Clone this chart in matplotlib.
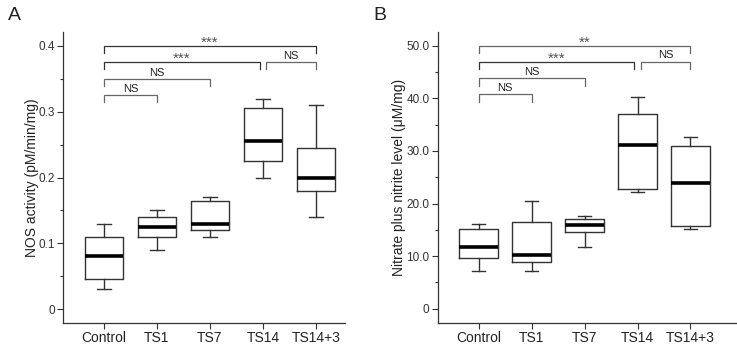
import matplotlib.pyplot as plt
from matplotlib.ticker import MultipleLocator, FixedFormatter, FixedLocator

# groups
categories = ["Control", "TS1", "TS7", "TS14", "TS14+3"]

# panel A: NOS activity (whisker low, Q1, median, Q3, whisker high)
nos_low = [0.03, 0.09, 0.11, 0.20, 0.14]
nos_q1 = [0.045, 0.11, 0.12, 0.225, 0.18]
nos_med = [0.08, 0.125, 0.13, 0.255, 0.20]
nos_q3 = [0.11, 0.14, 0.165, 0.305, 0.245]
nos_high = [0.13, 0.15, 0.17, 0.32, 0.31]

# panel B: nitrate plus nitrite level
nit_low = [7.2, 7.2, 11.8, 22.2, 15.2]
nit_q1 = [9.6, 8.9, 14.6, 22.8, 15.7]
nit_med = [11.8, 10.3, 15.9, 31.2, 23.9]
nit_q3 = [15.1, 16.4, 17.0, 37.1, 30.9]
nit_high = [16.2, 20.4, 17.7, 40.2, 32.6]

# significance brackets (group i, group j, label)
pairs = [(0, 4), (0, 3), (3, 4), (0, 2), (0, 1)]
labels_a = ["***", "***", "NS", "NS", "NS"]
labels_b = ["**", "***", "NS", "NS", "NS"]

plt.rcParams['font.family'] = ['Arial', 'Liberation Sans', 'DejaVu Sans']

fig = plt.figure(figsize=(7.37, 3.45), dpi=100)
ax_a = fig.add_axes([0.0855, 0.064, 0.383, 0.843])
ax_b = fig.add_axes([0.594, 0.064, 0.404, 0.843])


def draw_panel(ax, low, q1, med, q3, high, labels, ylim, step, fmt, bracket_y, leg):
    stats = []
    for i in range(len(categories)):
        stats.append(dict(whislo=low[i], q1=q1[i], med=med[i], q3=q3[i],
                          whishi=high[i], label=categories[i]))
    pos = list(range(1, len(categories) + 1))
    ax.bxp(stats, positions=pos, widths=0.72, showfliers=False,
           boxprops=dict(color="#333333", linewidth=1.0),
           whiskerprops=dict(color="#333333", linewidth=1.0),
           capprops=dict(color="#333333", linewidth=1.0),
           medianprops=dict(color="black", linewidth=2.6, solid_capstyle="butt"),
           capwidths=0.25)
    ax.set_ylim(*ylim)
    ax.spines["top"].set_visible(False)
    ax.spines["right"].set_visible(False)
    for s in ("left", "bottom"):
        ax.spines[s].set_color("#333333")
        ax.spines[s].set_linewidth(0.9)
    ticks = [step * k for k in range(int(ylim[1] / step) + 1)]
    ax.yaxis.set_major_locator(FixedLocator(ticks))
    ax.yaxis.set_major_formatter(FixedFormatter(["0"] + [fmt.format(t) for t in ticks[1:]]))
    ax.yaxis.set_minor_locator(MultipleLocator(step / 2))
    ax.tick_params(axis="y", which="major", length=4, width=0.8, color="#333333",
                   labelsize=8.5, labelcolor="#333333", pad=2)
    ax.tick_params(axis="y", which="minor", length=2.5, width=0.8, color="#333333")
    ax.tick_params(axis="x", length=4, width=0.8, color="#333333",
                   labelsize=10, labelcolor="#222222", pad=2)
    # brackets
    for (i, j), lab, y in zip(pairs, labels, bracket_y):
        x1, x2 = i + 1, j + 1
        if j == 3 and i == 0:
            x2 -= 0.06
        if i == 3:
            x1 += 0.06
        col = "#666666" if lab != "***" else "#333333"
        ax.plot([x1, x1, x2, x2], [y - leg, y, y, y - leg], color=col, lw=0.9,
                solid_joinstyle="miter")
        if lab == "NS":
            ax.text((x1 + x2) / 2, y + leg * 0.15, lab, ha="center", va="bottom",
                    fontsize=8, color="#222222")
        else:
            ax.text((x1 + x2) / 2, y - leg * 0.55, lab, ha="center", va="bottom",
                    fontsize=11, color="#555555")


draw_panel(ax_a, nos_low, nos_q1, nos_med, nos_q3, nos_high, labels_a,
           (-0.021, 0.421), 0.1, "{:.1f}", [0.400, 0.376, 0.376, 0.350, 0.325], 0.011)
ax_a.set_xlim(0.23, 5.55)
ax_a.set_ylabel("NOS activity (pM/min/mg)", fontsize=10, color="#222222")
ax_a.yaxis.set_label_coords(-0.085, 0.5)

draw_panel(ax_b, nit_low, nit_q1, nit_med, nit_q3, nit_high, labels_b,
           (-2.7, 52.6), 10, "{:.1f}", [50.0, 47.0, 47.0, 43.8, 40.8], 1.4)
ax_b.set_xlim(0.23, 5.85)
ax_b.set_ylabel("Nitrate plus nitrite level (\u03bcM/mg)", fontsize=10, color="#222222")
ax_b.yaxis.set_label_coords(-0.107, 0.5)

fig.text(0.02, 0.955, "A", fontsize=14, color="#222222", va="center", ha="center")
fig.text(0.515, 0.955, "B", fontsize=14, color="#222222", va="center", ha="center")

fig.savefig("out.png", dpi=100)
